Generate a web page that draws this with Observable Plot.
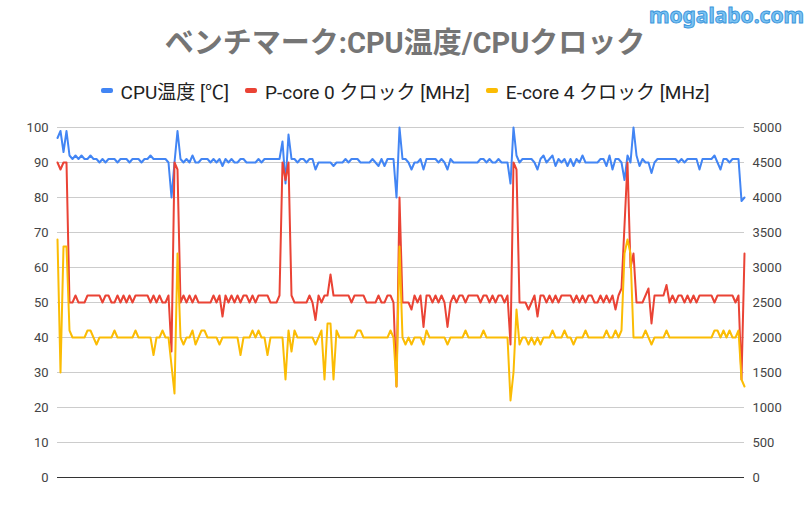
<!DOCTYPE html>
<html><head><meta charset="utf-8">
<script src="https://cdn.jsdelivr.net/npm/d3@7"></script>
<script src="https://cdn.jsdelivr.net/npm/@observablehq/plot@0.6"></script>
<style>
html,body{margin:0;padding:0;background:#fff;}
#wrap{position:relative;width:810px;height:511px;overflow:hidden;font-family:Roboto,"Noto Sans CJK JP",sans-serif;}
#wm{position:absolute;right:6px;top:1px;font:bold 21px "Noto Sans",Roboto,sans-serif;color:#7cc3f2;-webkit-text-stroke:1px #3d97dc;letter-spacing:0px;}
#title{height:70px;line-height:86px;text-align:center;font-weight:bold;font-size:29px;color:#757575;font-family:Roboto,"Noto Sans CJK JP",sans-serif;}
#legend{height:40px;display:flex;justify-content:center;align-items:center;gap:16px;font-size:19px;color:#222;margin-top:0;padding-left:0;}
#legend .it{display:flex;align-items:center;}
#legend .sw{display:inline-block;width:12px;height:5px;border-radius:2px;margin-right:8px;}
svg{display:block;}
</style></head>
<body><div id="wrap">
<div id="wm">mogalabo.com</div>
<div id="title">ベンチマーク:CPU温度/CPUクロック</div>
<div id="legend"></div>
<div id="chart"></div>
</div>
<script>
const seriesNames = ["CPU温度 [℃]", "P-core 0 クロック [MHz]", "E-core 4 クロック [MHz]"];
const seriesColors = ["#4285F4", "#EA4335", "#FBBC04"];
const leftTicks = [0,10,20,30,40,50,60,70,80,90,100];
const rightTicks = ["0","500","1000","1500","2000","2500","3000","3500","4000","4500","5000"];

const cpuTemp = [97,99,93,99,92,
91,92,91,92,91,91,92,91,91,90,91,90,91,91,91,90,91,91,91,90,91,91,91,90,91,91,92,91,91,91,91,91,90,
80,90,99,
91,90,91,90,92,90,90,91,91,91,90,91,90,91,89,91,90,91,90,90,91,91,90,90,90,90,91,90,91,91,91,91,91,91,
96,84,98,91,
91,90,91,91,90,91,91,88,90,90,90,90,90,89,90,90,90,91,90,91,91,91,90,90,90,90,91,90,89,91,89,91,91,91,
80,100,
91,91,90,88,90,90,91,88,91,91,91,91,90,91,90,88,91,90,90,90,90,90,90,90,90,90,91,91,90,91,90,90,91,90,90,
90,84,100,92,
90,91,91,91,91,90,88,91,92,90,91,92,89,91,90,91,89,91,89,91,90,92,90,90,90,90,90,91,91,89,92,88,91,91,90,
85,92,90,100,
92,89,91,90,90,87,90,91,91,91,91,91,91,91,90,91,90,91,91,91,91,88,91,91,91,91,92,90,88,91,91,90,91,91,91,
79,80];

const pcoreClock = [4500,4400,4500,4500,
2500,2500,2600,2500,2500,2500,2600,2600,2600,2600,2600,2500,2600,2600,2500,2500,2600,2500,2600,2500,2600,2500,2600,2600,2600,2600,2600,2500,2600,2500,2600,2500,2500,2600,
1800,4500,4400,2500,
2600,2500,2600,2500,2600,2500,2500,2500,2500,2500,2600,2500,2600,2300,2600,2500,2600,2500,2600,2500,2600,2600,2500,2600,2500,2600,2600,2600,2600,2500,2500,2500,2600,
4500,4250,4500,2600,
2500,2500,2500,2500,2500,2600,2500,2250,2600,2500,2600,2600,2900,2600,2600,2600,2600,2600,2600,2500,2600,2600,2600,2600,2500,2500,2500,2500,2600,2500,2500,2600,2600,2500,
1300,4000,
2500,2500,2500,2400,2600,2500,2600,2150,2600,2600,2500,2600,2500,2600,2500,2150,2500,2600,2500,2600,2600,2500,2600,2600,2600,2600,2500,2600,2600,2500,2600,2500,2600,2600,2500,2600,
1900,4500,4400,2500,
2500,2500,2400,2500,2600,2300,2600,2600,2500,2600,2500,2600,2500,2600,2600,2600,2600,2500,2600,2500,2600,2500,2600,2600,2500,2500,2600,2500,2600,2500,2600,2400,2600,
2700,3600,4500,3000,3200,2500,
2500,2500,2600,2700,2200,2600,2600,2600,2600,2750,2500,2600,2500,2600,2600,2500,2600,2500,2600,2500,2600,2600,2600,2600,2600,2500,2600,2600,2600,2600,2600,2600,2500,2600,
1400,3200];

const ecoreClock = [3400,1500,3300,3300,2100,
2000,2000,2000,2000,2000,2100,2100,2000,1900,2000,2000,2000,2000,2000,2100,2000,2000,2000,2000,2000,2000,2100,2000,2000,2000,2000,2000,1750,2000,2000,2100,2000,2000,
1600,1200,3200,2000,
1900,2000,2000,2100,1900,2000,2100,2100,2000,2000,2000,2000,1900,2000,2000,2000,2000,2000,2000,1750,2000,2000,2000,2100,2000,2100,2000,2000,1750,2000,2000,2000,2000,
2000,1400,2100,1800,
2100,2000,2000,2000,2000,2000,2000,1900,2000,2100,1400,2200,2200,1400,2100,2000,2000,2000,2000,2000,2000,2100,2100,2000,2000,2000,2000,2000,2000,2000,2000,2000,2100,2000,
1300,3300,
2000,1900,2000,1900,2000,2000,2000,1900,2100,2000,2000,2000,2000,2000,2000,1900,2000,2000,2000,2000,2000,2100,2000,2000,2000,2000,2000,2100,2000,2000,2000,2000,2000,2000,2000,2000,
1100,1500,2400,1900,
2000,2000,1900,2000,1900,2000,1900,2000,2000,2000,2100,2000,2000,2000,2100,2000,2000,1900,2000,2000,2000,2100,2000,2000,2000,2000,2000,2000,2100,2000,2000,2100,2000,
2100,3200,3400,3200,2000,
2000,2000,2000,2100,2000,1900,2000,2000,2000,2000,2100,2000,2000,2000,2000,2000,2000,2000,2000,2000,2000,2000,2000,2000,2000,2000,2100,2100,2000,2100,2000,2100,2000,2000,2100,
1400,1300];

const rows = cpuTemp.map((t, i) => ({i, t, p: pcoreClock[i], e: ecoreClock[i]}));
const ratio = Number(rightTicks[rightTicks.length-1]) / leftTicks[leftTicks.length-1];

const lg = document.getElementById("legend");
seriesNames.forEach((n, k) => {
  const it = document.createElement("span"); it.className = "it";
  const sw = document.createElement("span"); sw.className = "sw"; sw.style.background = seriesColors[k];
  it.appendChild(sw); it.appendChild(document.createTextNode(n)); lg.appendChild(it);
});

const chart = Plot.plot({
  width: 810, height: 401,
  marginLeft: 57, marginRight: 66, marginTop: 17, marginBottom: 34,
  style: {fontFamily: "Roboto, sans-serif", fontSize: "13px", color: "#444", background: "#fff"},
  x: {domain: [0, rows.length - 1], axis: null},
  y: {domain: [leftTicks[0], leftTicks[leftTicks.length-1]]},
  marks: [
    Plot.ruleY(leftTicks.slice(1), {stroke: "#cccccc", strokeWidth: 1}),
    Plot.ruleY([0], {stroke: "#333", strokeWidth: 1}),
    Plot.axisY(leftTicks, {anchor: "left", tickSize: 0, tickPadding: 9, label: null, fontSize: 13}),
    Plot.axisY(leftTicks, {anchor: "right", tickSize: 0, tickPadding: 8, label: null, fontSize: 13,
      tickFormat: d => rightTicks[leftTicks.indexOf(d)]}),
    Plot.line(rows, {x: "i", y: "t", stroke: seriesColors[0], strokeWidth: 2, strokeLinejoin: "round"}),
    Plot.line(rows, {x: "i", y: d => d.p / ratio, stroke: seriesColors[1], strokeWidth: 2, strokeLinejoin: "round"}),
    Plot.line(rows, {x: "i", y: d => d.e / ratio, stroke: seriesColors[2], strokeWidth: 2, strokeLinejoin: "round"})
  ]
});
document.getElementById("chart").appendChild(chart);
</script>
</body></html>
